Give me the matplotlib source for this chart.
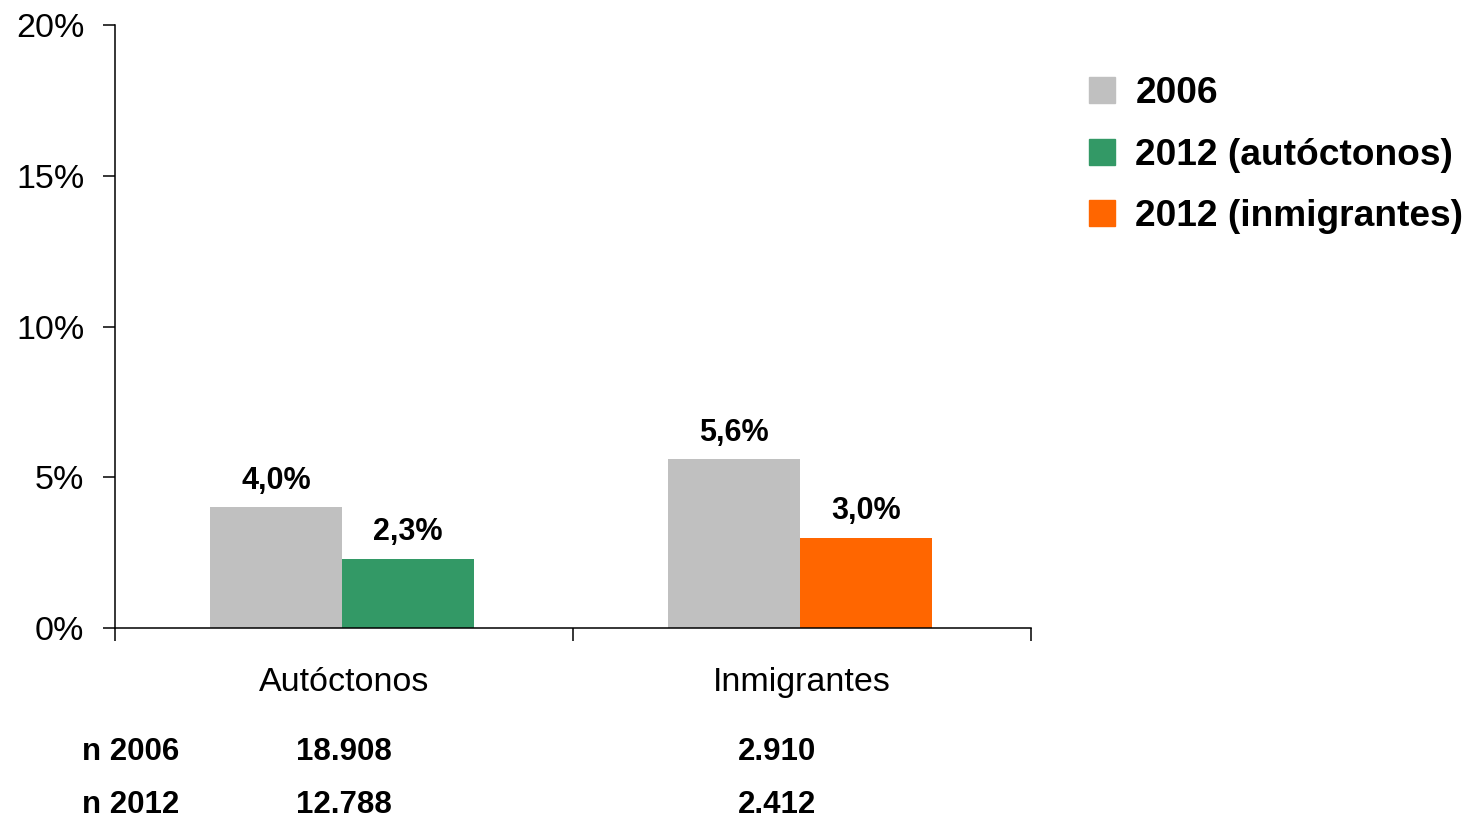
import matplotlib.pyplot as plt
from matplotlib.patches import Patch

plt.rcParams['font.family'] = ['Liberation Sans', 'DejaVu Sans']

categories = ["Autóctonos", "Inmigrantes"]
values_2006 = [4.0, 5.6]
values_2012 = [2.3, 3.0]
labels_2006 = ["4,0%", "5,6%"]
labels_2012 = ["2,3%", "3,0%"]
legend_labels = ["2006", "2012 (autóctonos)", "2012 (inmigrantes)"]
n_rows = ["n 2006", "n 2012"]
n_values = [["18.908", "2.910"], ["12.788", "2.412"]]

gray = "#C0C0C0"
green = "#339966"
orange = "#FF6600"
colors_2012 = [green, orange]

fig = plt.figure(figsize=(14.69, 8.26), dpi=100)
ax = fig.add_axes([115 / 1469, 1 - 628 / 826, (1031 - 115) / 1469, (628 - 25) / 826])

w = 0.288
x = range(len(categories))
b1 = ax.bar([i - w / 2 - 0.004 for i in x], values_2006, width=w, color=gray)
b2 = ax.bar([i + w / 2 - 0.004 for i in x], values_2012, width=w, color=colors_2012)

# value labels above each bar
for bars, labs in [(b1, labels_2006), (b2, labels_2012)]:
    for bar, lab in zip(bars, labs):
        ax.annotate(lab, (bar.get_x() + bar.get_width() / 2, bar.get_height()),
                    xytext=(0, 19), textcoords="offset points",
                    ha="center", va="center", fontsize=22, fontweight="bold")

ax.set_xlim(-0.5, 1.5)
ax.set_ylim(0, 20)
ax.set_yticks([0, 5, 10, 15, 20])
ax.set_yticklabels([f"{v}%" for v in [0, 5, 10, 15, 20]])
ax.tick_params(axis="y", length=9, width=1.1, pad=13, labelsize=24.5)

ax.set_xticks(list(x))
ax.set_xticklabels(categories)
ax.set_xticks([-0.5, 0.5, 1.5], minor=True)
ax.tick_params(axis="x", which="major", length=0, pad=28, labelsize=24.5)
ax.tick_params(axis="x", which="minor", length=9, width=1.1)

for s in ["top", "right"]:
    ax.spines[s].set_visible(False)
for s in ["left", "bottom"]:
    ax.spines[s].set_linewidth(1.1)

handles = [Patch(color=gray), Patch(color=green), Patch(color=orange)]
fig.legend(handles, legend_labels, loc="upper left", bbox_to_anchor=(1089 / 1469, 1 - 76 / 826),
           frameon=False, prop={"size": 26.7, "weight": "bold"},
           handlelength=0.7, handleheight=0.7, handletextpad=0.55, labelspacing=0.72,
           borderpad=0, borderaxespad=0)

# sample size table under the chart
row_y = [752, 805]
col_x = [344, 777]
for r, lab in enumerate(n_rows):
    fig.text(82 / 1469, 1 - row_y[r] / 826, lab, ha="left", va="center",
             fontsize=22.5, fontweight="bold")
    for c, val in enumerate(n_values[r]):
        fig.text(col_x[c] / 1469, 1 - row_y[r] / 826, val, ha="center", va="center",
                 fontsize=22.5, fontweight="bold")

fig.savefig("out.png", dpi=100)
